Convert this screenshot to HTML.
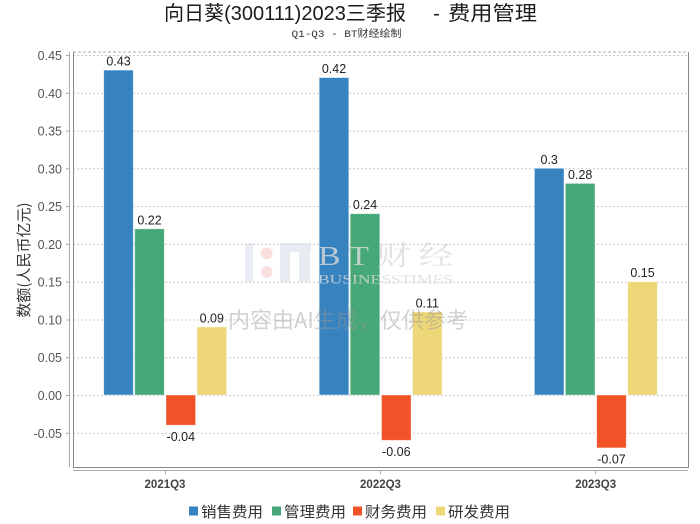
<!DOCTYPE html>
<html>
<head>
<meta charset="utf-8">
<style>
html,body{margin:0;padding:0;background:#fff;}
svg{display:block;}
text{font-family:"Liberation Sans","Noto Sans CJK SC",sans-serif;}
</style>
</head>
<body>
<svg width="700" height="524" viewBox="0 0 700 524" xmlns="http://www.w3.org/2000/svg">
<rect x="0" y="0" width="700" height="524" fill="#ffffff"/>

<!-- Title -->
<g font-size="20" fill="#1a1a1a" style="font-family:'Noto Sans CJK SC','Liberation Sans',sans-serif;">
<text x="164" y="20" textLength="242" lengthAdjust="spacingAndGlyphs">向日葵(300111)2023三季报</text>
<text x="436.5" y="20" text-anchor="middle">-</text>
<text x="448" y="20" textLength="89" lengthAdjust="spacingAndGlyphs">费用管理</text>
</g>
<text x="346.5" y="37" font-size="10" fill="#333" text-anchor="middle" textLength="110" lengthAdjust="spacingAndGlyphs" style="font-family:'Liberation Mono','Noto Sans CJK SC',monospace;">Q1-Q3 - BT财经绘制</text>

<!-- Gridlines -->
<g stroke="#c8c8c8" stroke-width="1" stroke-dasharray="2,2">
<line x1="73" y1="55.5" x2="688" y2="55.5"/>
<line x1="73" y1="93.3" x2="688" y2="93.3"/>
<line x1="73" y1="131" x2="688" y2="131"/>
<line x1="73" y1="168.8" x2="688" y2="168.8"/>
<line x1="73" y1="206.6" x2="688" y2="206.6"/>
<line x1="73" y1="244.4" x2="688" y2="244.4"/>
<line x1="73" y1="282.2" x2="688" y2="282.2"/>
<line x1="73" y1="320" x2="688" y2="320"/>
<line x1="73" y1="357.7" x2="688" y2="357.7"/>
<line x1="73" y1="395.5" x2="688" y2="395.5"/>
<line x1="73" y1="433.3" x2="688" y2="433.3"/>
</g>

<!-- Plot frame -->
<line x1="73" y1="52" x2="688" y2="52" stroke="#aaaaaa" stroke-width="1" stroke-dasharray="3,2"/>
<line x1="73.5" y1="52" x2="73.5" y2="467" stroke="#888" stroke-width="1"/>
<line x1="688.5" y1="52" x2="688.5" y2="467" stroke="#888" stroke-width="1"/>
<line x1="73" y1="467.5" x2="689" y2="467.5" stroke="#888" stroke-width="1"/>

<!-- Axes -->
<line x1="69.5" y1="52" x2="69.5" y2="467" stroke="#aaa" stroke-width="1"/>
<line x1="73" y1="470.5" x2="688" y2="470.5" stroke="#aaa" stroke-width="1"/>
<g stroke="#aaa" stroke-width="1">
<line x1="66" y1="55.5" x2="69" y2="55.5"/>
<line x1="66" y1="93.3" x2="69" y2="93.3"/>
<line x1="66" y1="131" x2="69" y2="131"/>
<line x1="66" y1="168.8" x2="69" y2="168.8"/>
<line x1="66" y1="206.6" x2="69" y2="206.6"/>
<line x1="66" y1="244.4" x2="69" y2="244.4"/>
<line x1="66" y1="282.2" x2="69" y2="282.2"/>
<line x1="66" y1="320" x2="69" y2="320"/>
<line x1="66" y1="357.7" x2="69" y2="357.7"/>
<line x1="66" y1="395.5" x2="69" y2="395.5"/>
<line x1="66" y1="433.3" x2="69" y2="433.3"/>
<line x1="165.5" y1="471" x2="165.5" y2="474"/>
<line x1="380.5" y1="471" x2="380.5" y2="474"/>
<line x1="595.5" y1="471" x2="595.5" y2="474"/>
</g>

<!-- Y tick labels -->
<g font-size="12.5" fill="#555" text-anchor="end">
<text x="62" y="60">0.45</text>
<text x="62" y="98">0.40</text>
<text x="62" y="135.5">0.35</text>
<text x="62" y="173.3">0.30</text>
<text x="62" y="211">0.25</text>
<text x="62" y="249">0.20</text>
<text x="62" y="286.7">0.15</text>
<text x="62" y="324.5">0.10</text>
<text x="62" y="362.2">0.05</text>
<text x="62" y="400">0.00</text>
<text x="62" y="437.8">-0.05</text>
</g>

<!-- Y axis title -->
<text x="0" y="0" font-size="15" fill="#333" text-anchor="middle" transform="translate(29,260) rotate(-90)" style="font-family:'Noto Sans CJK SC','Liberation Sans',sans-serif;">数额(人民币亿元)</text>

<!-- Bars -->
<g stroke="#ffffff" stroke-opacity="0.5" stroke-width="0.8">
<rect x="103.7" y="70.1" width="29.6" height="324.9" fill="#3683c0"/>
<rect x="134.7" y="228.8" width="29.6" height="166.2" fill="#46a877"/>
<rect x="166" y="395" width="29.6" height="30.2" fill="#f05327"/>
<rect x="197" y="327" width="29.6" height="68" fill="#edd778"/>
<rect x="319.2" y="77.6" width="29.6" height="317.4" fill="#3683c0"/>
<rect x="350.2" y="213.7" width="29.6" height="181.3" fill="#46a877"/>
<rect x="381.5" y="395" width="29.6" height="45.3" fill="#f05327"/>
<rect x="412.5" y="311.9" width="29.6" height="83.1" fill="#edd778"/>
<rect x="534.4" y="168.3" width="29.6" height="226.7" fill="#3683c0"/>
<rect x="565.4" y="183.4" width="29.6" height="211.6" fill="#46a877"/>
<rect x="596.7" y="395" width="29.6" height="52.9" fill="#f05327"/>
<rect x="627.7" y="281.7" width="29.6" height="113.3" fill="#edd778"/>
</g>

<!-- Value labels -->
<g font-size="12.5" fill="#222" text-anchor="middle">
<text x="118.5" y="65.5">0.43</text>
<text x="149.5" y="224.3">0.22</text>
<text x="180.8" y="441">-0.04</text>
<text x="211.8" y="322.5">0.09</text>
<text x="334" y="73">0.42</text>
<text x="365" y="209.2">0.24</text>
<text x="396.3" y="456">-0.06</text>
<text x="427.3" y="307.4">0.11</text>
<text x="549.2" y="163.8">0.3</text>
<text x="580.2" y="178.9">0.28</text>
<text x="611.5" y="463.6">-0.07</text>
<text x="642.5" y="277.2">0.15</text>
</g>

<!-- X labels -->
<g font-size="11.5" font-weight="bold" fill="#444" text-anchor="middle">
<text x="165" y="488">2021Q3</text>
<text x="380.5" y="488">2022Q3</text>
<text x="595.7" y="488">2023Q3</text>
</g>

<!-- Watermark -->
<g opacity="0.55">
<rect x="245" y="243" width="8" height="39" fill="#d5dde9"/>
<circle cx="266.7" cy="253.5" r="6" fill="#f6c8c8"/>
<circle cx="266.7" cy="272" r="6" fill="#f6c8c8"/>
<rect x="280" y="243" width="31" height="9" fill="#d5dde9"/>
<rect x="280" y="243" width="10" height="39" fill="#d5dde9"/>
<rect x="299" y="243" width="11" height="39" fill="#d5dde9"/>
</g>
<text x="318" y="265" font-size="27" fill="#d9d9d9" fill-opacity="0.8" textLength="135" lengthAdjust="spacingAndGlyphs" style="font-family:'Liberation Serif','Noto Serif CJK SC',serif;">B T 财 经</text>
<text x="318" y="283.5" font-size="13" fill="#d9d9d9" fill-opacity="0.8" textLength="135" lengthAdjust="spacingAndGlyphs" style="font-family:'Liberation Serif',serif;">BUSINESSTIMES</text>
<text x="228" y="328" font-size="22" fill="#999" fill-opacity="0.45" textLength="240" lengthAdjust="spacingAndGlyphs" style="font-family:'Noto Sans CJK SC','Liberation Sans',sans-serif;">内容由AI生成，仅供参考</text>

<!-- Legend -->
<g style="font-family:'Noto Sans CJK SC','Liberation Sans',sans-serif;" font-size="15" fill="#333">
<rect x="189" y="506.5" width="9" height="9" fill="#3683c0"/>
<text x="201" y="517" textLength="62" lengthAdjust="spacingAndGlyphs">销售费用</text>
<rect x="272" y="506.5" width="9" height="9" fill="#46a877"/>
<text x="284" y="517" textLength="62" lengthAdjust="spacingAndGlyphs">管理费用</text>
<rect x="353" y="506.5" width="9" height="9" fill="#f05327"/>
<text x="365" y="517" textLength="62" lengthAdjust="spacingAndGlyphs">财务费用</text>
<rect x="436" y="506.5" width="9" height="9" fill="#edd778"/>
<text x="448" y="517" textLength="62" lengthAdjust="spacingAndGlyphs">研发费用</text>
</g>
</svg>
</body>
</html>
